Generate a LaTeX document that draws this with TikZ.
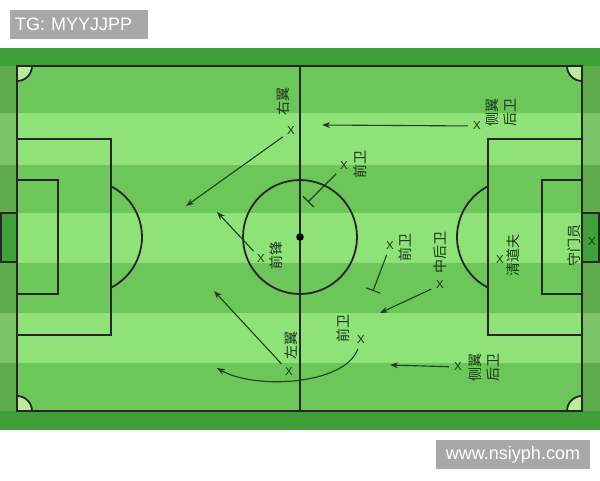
\documentclass[tikz,border=0pt]{standalone}
\usepackage{fontspec}
\setmainfont{Liberation Sans}
\newfontfamily\cjk{Noto Sans CJK SC}
\usetikzlibrary{arrows.meta}
\definecolor{fdark}{RGB}{108,198,90}
\definecolor{flight}{RGB}{142,226,120}
\definecolor{borderc}{RGB}{62,158,56}
\definecolor{goalc}{RGB}{66,160,58}
\definecolor{cornerc}{RGB}{186,238,156}
\definecolor{labc}{RGB}{25,55,25}
\definecolor{arrc}{RGB}{28,66,28}
\definecolor{bannerc}{RGB}{168,168,168}
\tikzset{
  pline/.style={draw=black!85, line width=1.8pt},
  lab/.style={rotate=90, font=\cjk\fontsize{14}{18}\selectfont, text=labc, inner sep=0pt, align=center},
  xm/.style={font=\fontsize{11.5}{11.5}\selectfont, text=labc, inner sep=1pt},
  arr/.style={draw=arrc, line width=1.1pt, -{Stealth[length=8pt,width=6pt]}, shorten <=4pt},
  blk/.style={draw=arrc, line width=1.1pt, -{Bar[width=15pt,line width=1.1pt]}, shorten <=4pt},
  banner/.style={fill=bannerc, text=white, font=\fontsize{18}{20}\selectfont, minimum height=29pt, inner ysep=0pt}
}
\begin{document}
\begin{tikzpicture}[x=1pt,y=-1pt]
\useasboundingbox (0,0) rectangle (600,480);
\fill[white] (0,0) rectangle (600,480);
% stripes
\fill[fdark] (0,48) rectangle (600,430);
\foreach \a/\b in {113/165,213/263,313/363} \fill[flight] (0,\a) rectangle (600,\b);
% borders
\fill[borderc] (0,48) rectangle (600,66);
\fill[borderc] (0,411) rectangle (600,430);
\fill[black, opacity=0.13] (0,66) rectangle (17,411);
\fill[black, opacity=0.13] (582,66) rectangle (600,411);
% corners
\begin{scope}
\clip (17,66) rectangle (582,411);
\foreach \p in {(17,66),(582,66),(17,411),(582,411)} \draw[pline, fill=cornerc] \p circle (15);
\end{scope}
% field lines
\draw[pline] (17,66) rectangle (582,411);
\draw[pline] (300,66) -- (300,411);
\draw[pline] (300,237) circle (57);
\fill[black] (300,237) circle (3.8);
\draw[pline] (17,139) rectangle (111,335);
\draw[pline] (17,180) rectangle (58,294);
\draw[pline] ([shift={(85,237)}]-62.9:57) arc (-62.9:62.9:57);
\draw[pline] (488,139) rectangle (582,335);
\draw[pline] (542,180) rectangle (582,294);
\draw[pline] ([shift={(514,237)}]117.1:57) arc (117.1:242.9:57);
\draw[pline, fill=goalc] (1,213) rectangle (17,262);
\draw[pline, fill=goalc] (582,213) rectangle (599,262);
% players
\node[xm] (xrw) at (291,131) {X};
\node[lab] (lrw) at (283,101) {右翼};
\node[xm] (xm1) at (344,166) {X};
\node[lab] (lm1) at (360,164) {前卫};
\node[xm] (xfw) at (261,259) {X};
\node[lab] (lfw) at (276,255) {前锋};
\node[xm] (xm2) at (390,246) {X};
\node[lab] (lm2) at (405,247) {前卫};
\node[xm] (xcb) at (440,285) {X};
\node[lab] (lcb) at (440,252) {中后卫};
\node[xm] (xsw) at (500,260) {X};
\node[lab] (lsw) at (513,255) {清道夫};
\node[xm] (xgk) at (592,242) {X};
\node[lab] (lgk) at (574,245) {守门员};
\node[xm] (xfb1) at (477,126) {X};
\node[lab] (lfb1) at (501,112) {侧翼\\后卫};
\node[xm] (xfb2) at (458,367) {X};
\node[lab] (lfb2) at (484,367) {侧翼\\后卫};
\node[xm] (xlw) at (289,372) {X};
\node[lab] (llw) at (291,345) {左翼};
\node[xm] (xm3) at (361,340) {X};
\node[lab] (lm3) at (343,328) {前卫};
% movement targets
\coordinate (trw) at (186,206);
\coordinate (tm1) at (308,202);
\coordinate (tfw) at (217,212);
\coordinate (tm2) at (373,291);
\coordinate (tcb) at (380,313);
\coordinate (tlw) at (214,291);
\coordinate (tm3) at (217,368);
\coordinate (tfb1) at (322,125);
\coordinate (tfb2) at (390,365);
\draw[arr] (xrw) -- (trw);
\draw[blk] (xm1) -- (tm1);
\draw[arr] (xfw) -- (tfw);
\draw[blk] (xm2) -- (tm2);
\draw[arr] (xcb) -- (tcb);
\draw[arr] (xlw) -- (tlw);
\draw[arr] (xm3) .. controls (345,385) and (255,390) .. (tm3);
\draw[arr] (xfb1) -- (tfb1);
\draw[arr] (xfb2) -- (tfb2);
% banners
\node[banner, anchor=north west, text width=128pt, inner xsep=5pt] (tg) at (10,10) {TG: MYYJJPP};
\node[banner, minimum width=154pt] (web) at (513,454.5) {www.nsiyph.com};
\end{tikzpicture}
\end{document}
